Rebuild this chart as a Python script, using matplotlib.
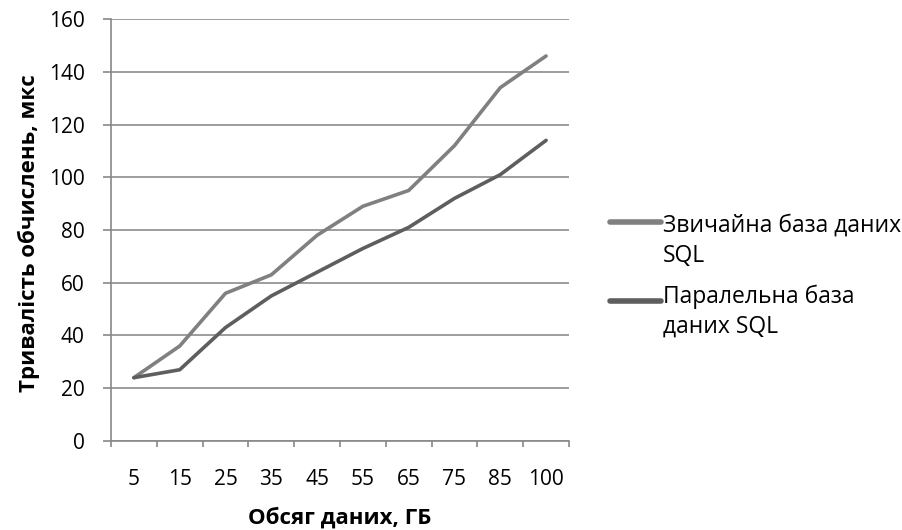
import numpy as np
import matplotlib
matplotlib.use('Agg')
import matplotlib.pyplot as plt
from matplotlib.lines import Line2D

# data
categories = ['5', '15', '25', '35', '45', '55', '65', '75', '85', '100']
regular_sql = [24, 36, 56, 63, 78, 89, 95, 112, 134, 146]
parallel_sql = [24, 27, 43, 55, 64, 73, 81, 92, 101, 114]
series_labels = ['Звичайна база даних\nSQL', 'Паралельна база\nданих SQL']
series_colors = ['#808080', '#5e5e5e']

plt.rcParams['font.family'] = ['Open Sans', 'DejaVu Sans']
plt.rcParams['font.size'] = 15

fig = plt.figure(figsize=(9.03, 5.30), dpi=100)
ax = fig.add_axes([0.1229, 0.168, 0.5072, 0.796])

x = np.arange(len(categories))
ax.plot(x, regular_sql, color=series_colors[0], lw=2.6, solid_joinstyle='round', solid_capstyle='round', zorder=3)
ax.plot(x, parallel_sql, color=series_colors[1], lw=2.6, solid_joinstyle='round', solid_capstyle='round', zorder=3)

ax.set_xlim(-0.5, len(categories) - 0.5)
ax.set_ylim(0, 160)
ax.set_yticks(np.arange(0, 161, 20))
ax.set_xticks(x)
ax.set_xticklabels(categories)
ax.set_xticks(np.arange(-0.5, len(categories)), minor=True)
ax.tick_params(axis='x', which='major', length=0, pad=20)
ax.tick_params(axis='x', which='minor', length=4.5, color='#888888', width=1.2)
ax.tick_params(axis='y', length=6, color='#888888', width=1.2, pad=13)

ax.grid(axis='y', color='#8c8c8c', lw=1.2)
ax.set_axisbelow(True)
for s in ['top', 'right']:
    ax.spines[s].set_visible(False)
for s in ['left', 'bottom']:
    ax.spines[s].set_color('#888888')
    ax.spines[s].set_linewidth(1.2)

ax.set_xlabel('Обсяг даних, ГБ', fontweight='bold', fontsize=16, va='top')
ax.xaxis.set_label_coords(0.5, -0.157)
ax.set_ylabel('Тривалість обчислень, мкс', fontweight='bold', fontsize=16)
ax.yaxis.set_label_coords(-0.155, 0.493)

# legend drawn by hand so the handle sits on the first text line
handle_y = [0.581, 0.432]
text_y = [0.5057, 0.3717]  # baseline of the last text line
for label, color, hy, ty in zip(series_labels, series_colors, handle_y, text_y):
    fig.add_artist(Line2D([0.675, 0.732], [hy, hy], transform=fig.transFigure,
                          color=color, lw=4, solid_capstyle='round'))
    fig.text(0.734, ty, label, va='baseline', ha='left', fontsize=16.5,
             linespacing=1.33)

fig.savefig('out.png', dpi=100)
